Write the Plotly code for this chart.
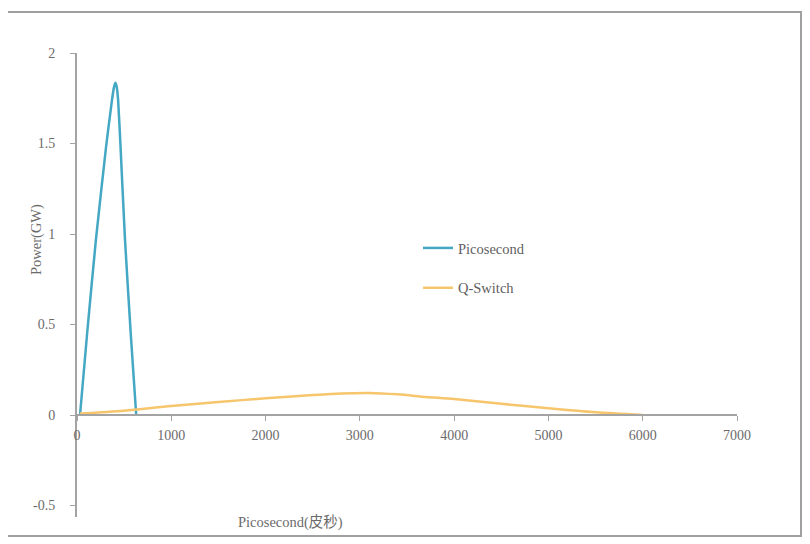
import plotly.graph_objects as go

# ---- data ----
pico_x = [32, 109, 201, 308, 371, 392, 408, 422, 436, 462, 509, 570, 628]
pico_y = [0.0, 0.46, 0.97, 1.48, 1.74, 1.81, 1.835, 1.81, 1.74, 1.48, 0.97, 0.45, 0.0]

qs_x = [30, 500, 1000, 1500, 2000, 2500, 2800, 3100, 3400, 3700, 4000, 4500, 5000, 5500, 6000]
qs_y = [0.008, 0.024, 0.05, 0.072, 0.092, 0.11, 0.119, 0.122, 0.114, 0.1, 0.088, 0.062, 0.037, 0.015, 0.0]

x_ticks = [0, 1000, 2000, 3000, 4000, 5000, 6000, 7000]
y_ticks = [2, 1.5, 1, 0.5, 0, -0.5]
y_tick_text = ["2", "1.5", "1", "0.5", "0", "-0.5"]

series_names = ["Picosecond", "Q-Switch"]
x_title = "Picosecond(皮秒)"
y_title = "Power(GW)"

# ---- layout constants (page body has an 8px margin) ----
OFF = 8
WIN_W, WIN_H = 810, 544
W, H = WIN_W - OFF, WIN_H - OFF
PL, PR, PT, PB = 77, 737, 53, 517          # plot area in window pixels
L, T = PL - OFF, PT - OFF
R, B = W - (PR - OFF), H - (PB - OFF)
x_range = [0, 7000]
y_range = [-0.5635, 2]
pw, ph = PR - PL, PB - PT

def px_to_paper_x(px):
    return (px - PL) / pw

def px_to_paper_y(py):
    return (PB - py) / ph

serif = "Liberation Serif, DejaVu Serif, Noto Sans CJK SC, serif"
axis_col = "#a3a3a3"
text_col = "#6b6b6b"

fig = go.Figure()
fig.add_trace(go.Scatter(x=pico_x, y=pico_y, mode="lines", name=series_names[0],
                         legendgroup="a",
                         line=dict(color="#44a7c4", width=2.5, shape="spline", smoothing=0.5)))
fig.add_trace(go.Scatter(x=qs_x, y=qs_y, mode="lines", name=series_names[1],
                         legendgroup="b",
                         line=dict(color="#f6c56c", width=2.5, shape="spline", smoothing=0.8)))

fig.update_layout(
    width=W, height=H,
    margin=dict(l=L, r=R, t=T, b=B, pad=0),
    paper_bgcolor="white", plot_bgcolor="white",
    font=dict(family=serif, size=14, color=text_col),
    showlegend=True,
    legend=dict(x=px_to_paper_x(418), y=px_to_paper_y(232), xanchor="left", yanchor="top",
                bgcolor="rgba(0,0,0,0)", font=dict(family=serif, size=14.5, color="#5f5f5f"),
                tracegroupgap=18, traceorder="grouped"),
    xaxis=dict(range=x_range, tickvals=x_ticks, showgrid=False, zeroline=False,
               showline=True, linecolor=axis_col, linewidth=2,
               ticks="outside", ticklen=5, tickcolor=axis_col, tickwidth=1,
               anchor="free", position=(0 - y_range[0]) / (y_range[1] - y_range[0]),
               tickfont=dict(family=serif, size=14, color=text_col), ticklabelstandoff=2),
    yaxis=dict(range=y_range, tickvals=y_ticks, ticktext=y_tick_text, showgrid=False,
               zeroline=False, showline=True, linecolor=axis_col, linewidth=2,
               ticks="outside", ticklen=5, tickcolor=axis_col, tickwidth=1,
               tickfont=dict(family=serif, size=14, color=text_col), ticklabelstandoff=12),
    shapes=[dict(type="rect", xref="paper", yref="paper",
                 x0=px_to_paper_x(5), x1=px_to_paper_x(801),
                 y0=px_to_paper_y(536), y1=px_to_paper_y(12),
                 line=dict(color="#a0a0a0", width=2), fillcolor="rgba(0,0,0,0)")],
    annotations=[
        dict(text=y_title, xref="paper", yref="paper", x=px_to_paper_x(36), y=px_to_paper_y(240),
             textangle=-90, showarrow=False, font=dict(family=serif, size=14.5, color=text_col),
             xanchor="center", yanchor="middle"),
        dict(text=x_title, xref="paper", yref="paper", x=px_to_paper_x(290), y=px_to_paper_y(522),
             showarrow=False, font=dict(family=serif, size=14.5, color=text_col),
             xanchor="center", yanchor="middle"),
    ],
)

fig.write_html("out.html")
